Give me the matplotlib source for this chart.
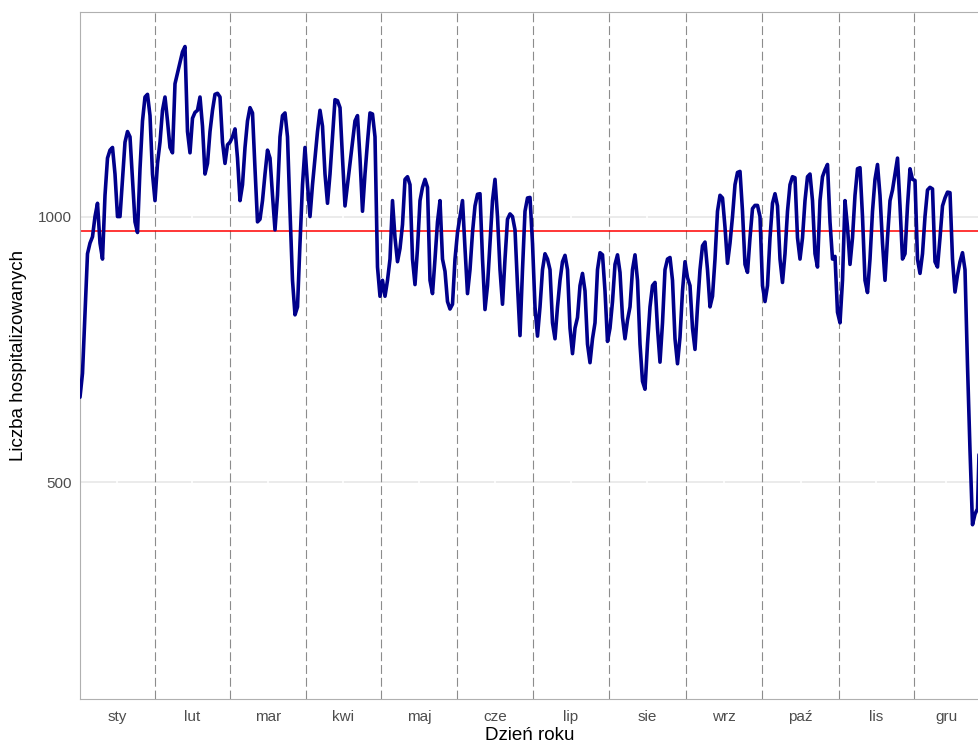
import numpy as np
import matplotlib
matplotlib.use('Agg')
import matplotlib.pyplot as plt

plt.rcParams['font.family'] = ['Liberation Sans', 'DejaVu Sans']

# daily number of hospitalised patients
hosp = [
    660, 705, 820, 930, 950, 962, 1000, 1025, 950, 920,
    1040, 1110, 1125, 1130, 1080, 1000, 1000, 1070, 1140, 1160,
    1150, 1070, 990, 970, 1090, 1180, 1225, 1230, 1190, 1080,
    1030, 1100, 1140, 1200, 1225, 1180, 1130, 1120, 1250, 1270,
    1290, 1310, 1320, 1160, 1120, 1185, 1196, 1200, 1225, 1170,
    1080, 1100, 1160, 1200, 1230, 1232, 1225, 1140, 1100, 1135,
    1140, 1150, 1165, 1110, 1030, 1060, 1130, 1180, 1205, 1195,
    1090, 990, 995, 1030, 1080, 1125, 1110, 1040, 975, 1040,
    1150, 1190, 1195, 1150, 1010, 880, 815, 830, 950, 1060,
    1130, 1060, 1000, 1060, 1110, 1160, 1200, 1170, 1080, 1025,
    1080, 1150, 1220, 1218, 1205, 1110, 1020, 1060, 1100, 1140,
    1180, 1190, 1110, 1010, 1080, 1140, 1195, 1193, 1150, 905,
    850, 880, 850, 880, 920, 1030, 960, 915, 940, 985,
    1070, 1075, 1060, 920, 872, 940, 1030, 1055, 1070, 1055,
    880, 855, 920, 990, 1030, 920, 897, 840, 826, 835,
    920, 970, 1000, 1030, 940, 855, 900, 970, 1020, 1042,
    1043, 920, 825, 870, 950, 1030, 1070, 1000, 900, 835,
    920, 995, 1005, 1000, 975, 870, 776, 900, 1010, 1035,
    1036, 950, 830, 775, 830, 900, 930, 920, 900, 800,
    770, 830, 880, 915, 927, 900, 790, 742, 790, 810,
    870, 893, 860, 760, 725, 770, 800, 900, 932, 928,
    860, 765, 790, 840, 910, 928, 895, 810, 770, 805,
    830, 900, 928, 880, 760, 690, 675, 760, 830, 870,
    876, 790, 726, 800, 900, 920, 923, 880, 770, 723,
    773, 860, 915, 885, 870, 790, 750, 830, 900, 945,
    952, 900, 830, 850, 920, 1010, 1040, 1035, 980, 912,
    950, 1000, 1060, 1083, 1085, 1010, 910, 895, 960, 1015,
    1021, 1021, 1000, 870, 840, 870, 960, 1025, 1043, 1020,
    920, 876, 930, 1010, 1060, 1075, 1073, 960, 920, 960,
    1030, 1075, 1080, 1030, 930, 905, 1030, 1075, 1088, 1098,
    990, 920, 925, 820, 800, 880, 1030, 980, 910, 960,
    1040, 1090, 1092, 1000, 880, 857, 920, 1010, 1070, 1098,
    1040, 950, 880, 960, 1030, 1050, 1080, 1110, 1020, 920,
    930, 1020, 1090, 1070, 1068, 920, 893, 930, 1000, 1050,
    1055, 1052, 915, 905, 960, 1020, 1035, 1046, 1045, 920,
    858, 890, 915, 932, 900, 720, 560, 420, 440, 450,
    620,
]
mean_level = 973
months = ['sty', 'lut', 'mar', 'kwi', 'maj', 'cze',
          'lip', 'sie', 'wrz', 'paź', 'lis', 'gru']
month_edges = [30, 60, 90.3, 120.5, 150.8, 181.2, 211.6, 242.4, 273, 303.6, 333.6]
x_max = 359.6

days = np.arange(len(hosp))
bounds = [0] + month_edges + [x_max]
mids = [(a + b) / 2 for a, b in zip(bounds[:-1], bounds[1:])]

fig = plt.figure(figsize=(9.79, 7.42), dpi=100)
ax = fig.add_axes([80 / 979, 43 / 742, 899 / 979, 687 / 742])

ax.set_xlim(0, x_max)
ax.set_ylim(92, 1385)

# grid: light horizontal lines, white vertical ones at the month labels
for yv in [500, 1000]:
    ax.axhline(yv, color='#e6e6e6', lw=1.1, zorder=0)
for xv in mids:
    ax.axvline(xv, color='white', lw=1.2, zorder=0.5)
for xv in month_edges:
    ax.axvline(xv, color='#8c8c8c', lw=0.8, dashes=(8, 3.5), zorder=1)

ax.axhline(mean_level, color='red', lw=1.1, zorder=2)
ax.plot(days, hosp, color='#00008B', lw=2.6, zorder=3,
        solid_joinstyle='round', solid_capstyle='round')

ax.set_xticks(mids)
ax.set_xticklabels(months)
ax.tick_params(axis='x', length=0, pad=8, labelsize=11, labelcolor='#4d4d4d')
ax.set_yticks([500, 1000])
ax.tick_params(axis='y', length=0, pad=6, labelsize=11, labelcolor='#4d4d4d')

for side in ['left', 'bottom', 'top', 'right']:
    ax.spines[side].set_color('#b0b0b0')
    ax.spines[side].set_linewidth(0.8)

ax.set_xlabel('Dzień roku', fontsize=13.5, labelpad=2)
ax.set_ylabel('Liczba hospitalizowanych', fontsize=13.5, labelpad=8)

fig.savefig('out.png', dpi=100)
